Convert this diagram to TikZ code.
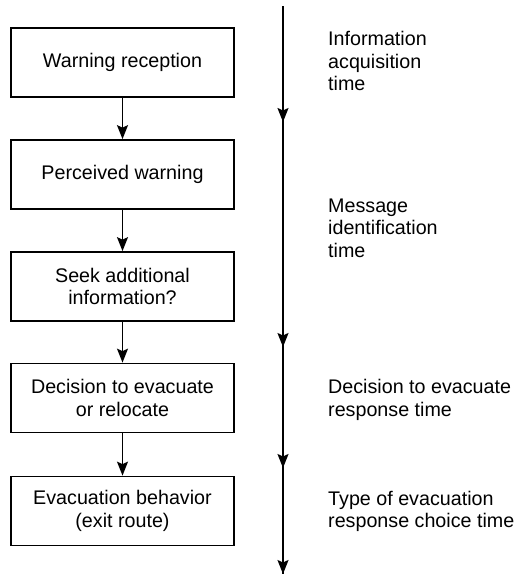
\documentclass[tikz,border=0pt]{standalone}
\usepackage{fontspec}
\setmainfont{Liberation Sans}
\usetikzlibrary{arrows.meta,positioning}
\tikzset{
    box/.style={draw,line width=1.7pt,align=center,minimum width=223pt,minimum height=69pt,inner sep=0pt},
    note/.style={anchor=west,align=left,inner sep=0pt},
    arrow/.style={-{Stealth[length=14pt,width=11pt,inset=2.5pt]},line width=1.6pt}
}
\begin{document}
\begin{tikzpicture}[x=1pt,y=-1pt,every node/.style={font=\fontsize{19.7}{22.5}\selectfont}]
    \useasboundingbox (0,0) rectangle (517,576);

    % process boxes
    \node[box] (recv) at (122.5,62.5) {Warning reception};
    \node[box] (perc) at (122.5,174.5) {Perceived warning};
    \node[box] (seek) at (122.5,286.5) {Seek additional\\information?};
    \node[box] (decide) at (122.5,398) {Decision to evacuate\\or relocate};
    \node[box] (behav) at (122.5,511) {Evacuation behavior\\(exit route)};
    \foreach \a/\b in {recv/perc,perc/seek,seek/decide,decide/behav} {\draw[arrow] (\a)--(\b);}

    % time axis
    \coordinate (t0) at (283,6);
    \coordinate (t1) at (283,122);
    \coordinate (t2) at (283,347);
    \coordinate (t3) at (283,468);
    \coordinate (t4) at (283,574);
    \draw[line width=1.6pt] (t0)--(t4);
    \foreach \a/\b in {t0/t1,t1/t2,t2/t3,t3/t4} {\draw[arrow] (\a)--(\b);}

    % time phases
    \node[note] (acq) at (328,61) {Information\\acquisition\\time};
    \node[note] (ident) at (328,228) {Message\\identification\\time};
    \node[note] (resp) at (328,400) {Decision to evacuate\\response time};
    \node[note] (choice) at (328,511.5) {Type of evacuation\\response choice time};
\end{tikzpicture}
\end{document}
